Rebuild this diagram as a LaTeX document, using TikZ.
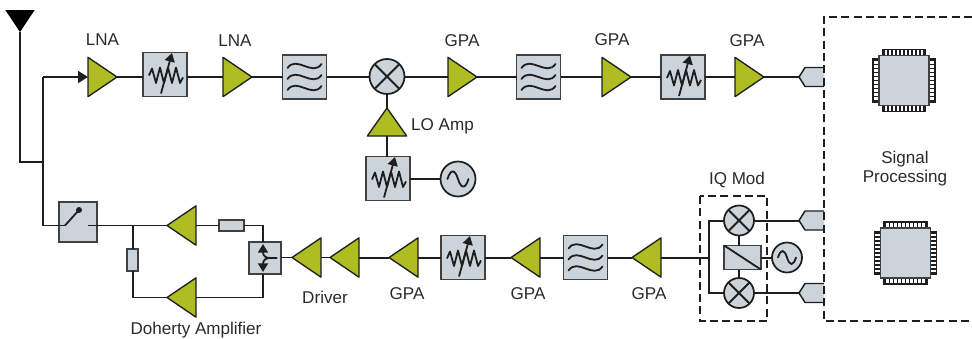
\documentclass[tikz,border=0pt]{standalone}
\usepackage{fontspec}
\setmainfont{Liberation Sans}
\usetikzlibrary{arrows.meta}
\definecolor{ampgreen}{HTML}{AFBD22}
\definecolor{boxgrey}{HTML}{CBD3DB}
\definecolor{inkdark}{HTML}{1E1E1E}
\definecolor{labelink}{HTML}{2A2A2A}
\tikzset{
  x=0.75pt,y=-0.75pt,
  wire/.style={draw=inkdark,line width=1.5pt},
  wire b/.style={draw=inkdark,line width=1.35pt},
  thin wire/.style={draw=inkdark,line width=1.35pt,line join=round},
  ampnode/.style={inner sep=0,outer sep=0,minimum width=21.75pt,minimum height=29.5pt},
  ampnodeup/.style={inner sep=0,outer sep=0,minimum width=29.5pt,minimum height=21pt},
  ampfill/.style={fill=ampgreen,draw=inkdark,line width=1pt,line join=round},
  grey box/.style={rectangle,fill=boxgrey,draw=inkdark!85,line width=1.1pt,inner sep=0,outer sep=0},
  square box/.style={grey box,minimum size=33pt},
  round part/.style={circle,fill=boxgrey,draw=inkdark,line width=1.3pt,inner sep=0,outer sep=0},
  lab/.style={text=labelink,font=\fontsize{12.8}{14.25}\selectfont,inner sep=0,align=center},
  dashbox/.style={draw=inkdark,line width=.9pt,dash pattern=on 6pt off 3.2pt},
}
\newcommand{\ampR}[3]{\node[ampnode] (#1) at (#2,#3) {};
  \draw[ampfill] (#1.north west) -- (#1.east) -- (#1.south west) -- cycle;}
\newcommand{\ampL}[3]{\node[ampnode] (#1) at (#2,#3) {};
  \draw[ampfill] (#1.north east) -- (#1.west) -- (#1.south east) -- cycle;}
\newcommand{\attbox}[3]{\node[square box] (#1) at (#2,#3) {};
  \begin{scope}[shift={(#1.center)}]
    \draw[thin wire] (-16,1) -- (-13,-6) -- (-9,8.5) -- (-5,-7) -- (-1,8.5) -- (3,-7) -- (7,8.5) -- (11,-7) -- (15,8.5) -- (18,3);
    \draw[thin wire,-{Triangle[length=6.5pt,width=7.5pt]}] (-4,19) -- (7,-21.5);
  \end{scope}}
\newcommand{\filtbox}[3]{\node[square box] (#1) at (#2,#3) {};
  \begin{scope}[shift={(#1.center)}]
    \foreach \dy in {-11,0,11}{
      \draw[thin wire,line cap=round] (-17,\dy+2) .. controls (-8,\dy-11) and (8,\dy+11) .. (17,\dy-2);}
  \end{scope}}
\newcommand{\mixer}[4]{\node[round part,minimum size=#4*0.75pt] (#1) at (#2,#3) {};
  \draw[wire] (#1.north west) -- (#1.south east) (#1.north east) -- (#1.south west);}
\newcommand{\osc}[4]{\node[round part,minimum size=#4*0.75pt] (#1) at (#2,#3) {};
  \draw[thin wire,line cap=round,shift={(#1.center)}] (-#4*0.3,0) .. controls (-#4*0.21,-#4*0.29) and (-#4*0.09,-#4*0.29) .. (0,0) .. controls (#4*0.09,#4*0.29) and (#4*0.21,#4*0.29) .. (#4*0.3,0);}
\newcommand{\port}[3]{\coordinate (#1) at (#2,#3);
  \draw[fill=boxgrey,draw=inkdark,line width=1.1pt,line join=round] (824,#3-9.5) -- (805,#3-9.5) -- (799,#3) -- (805,#3+9.5) -- (824,#3+9.5);}
\newcommand{\chip}[3]{%
  \foreach \s in {-1,1}{
    \begin{scope}[shift={(#2,#3)}]
      \draw[draw=inkdark,line width=.8pt,fill=white] (-21.5,\s*25) rectangle (21.5,\s*31);
      \draw[draw=inkdark,line width=.8pt,fill=white] (\s*25,-21.5) rectangle (\s*31,21.5);
      \foreach \k in {-20,-16,...,20}{
        \draw[draw=inkdark,line width=.8pt] (\k,\s*25) -- (\k,\s*31);
        \draw[draw=inkdark,line width=.8pt] (\s*25,\k) -- (\s*31,\k);}
    \end{scope}}
  \node[grey box,minimum size=37.5pt,line width=1.3pt] (#1) at (#2,#3) {};}
\begin{document}
\begin{tikzpicture}
\useasboundingbox (0,0) rectangle (972,339);
% top chain
\ampR{lnaa}{102.5}{77}
\ampR{lnab}{237.5}{77}
\attbox{atta}{165}{74.5}
\filtbox{filta}{304.5}{77}
\mixer{mixa}{387}{76.5}{35}
\ampR{gpaa}{462.5}{77}
\filtbox{filtb}{538.5}{77}
\ampR{gpab}{616.5}{77}
\attbox{attb}{683}{77}
\ampR{gpac}{749.5}{77}
\port{pa}{799}{77}
% LO branch
\node[ampnodeup] (loamp) at (387,122) {};
\draw[ampfill] (loamp.north) -- (loamp.south east) -- (loamp.south west) -- cycle;
\attbox{attc}{388}{178.5}
\osc{osca}{458}{179}{35}
% bottom chain
\node[grey box,minimum width=28.5pt,minimum height=30pt] (sw) at (78,222) {};
\ampL{pau}{181.5}{225.5}
\ampL{pal}{181.5}{297.5}
\node[grey box,minimum width=18.75pt,minimum height=8.25pt] (resh) at (231.5,225.5) {};
\node[grey box,minimum width=8.25pt,minimum height=16.5pt] (resv) at (132.5,260) {};
\node[grey box,minimum size=24pt] (split) at (265,258) {};
\ampL{drva}{306.5}{257.5}
\ampL{drvb}{344.5}{257.5}
\ampL{gpad}{403.5}{257.5}
\attbox{attd}{463}{257.5}
\ampL{gpae}{525.5}{257.5}
\filtbox{filtc}{585.5}{257.5}
\ampL{gpaf}{646.5}{257.5}
\mixer{mixb}{739}{220.5}{30}
\mixer{mixc}{739}{293}{30}
\node[grey box,minimum width=27.5pt,minimum height=18pt] (conv) at (742.5,257.5) {};
\draw[thin wire] (conv.north west) -- (conv.south east);
\osc{oscb}{787}{257.5}{30}
\port{pb}{799}{220.5}
\port{pc}{799}{293}
% antenna
\node[inner sep=0,outer sep=0,minimum width=22pt,minimum height=16.5pt] (ant) at (20,21) {};
\fill[black] (ant.north west) -- (ant.north east) -- (ant.south) -- cycle;
\coordinate (tee) at (43,162);
\coordinate (corner) at (43,77);
\coordinate (swin) at (65,225.5);
\coordinate (swout) at (88,225.5);
\coordinate (swdot) at (79,210);
\coordinate (tapu) at (133,225.5);
\coordinate (tapl) at (133,297.5);
\coordinate (iqtop) at (709,220.5);
\coordinate (iqmid) at (709,257.5);
\coordinate (iqbot) at (709,293);
% connectors
\draw[wire b] (ant.south) |- (tee);
\draw[wire b] (swin) -| (corner);
\draw[wire b,-{Triangle[length=7.5pt,width=9pt]}] (corner) -- (lnaa.west);
\draw[wire] (lnaa.east) -- (atta.west |- lnaa.east);
\draw[wire] (atta.east |- lnab.west) -- (lnab.west);
\draw[wire] (lnab.east) -- (filta.west);
\draw[wire] (filta.east) -- (mixa.west |- filta.east);
\draw[wire] (mixa.east |- gpaa.west) -- (gpaa.west);
\draw[wire] (gpaa.east) -- (filtb.west);
\draw[wire] (filtb.east) -- (gpab.west);
\draw[wire] (gpab.east) -- (attb.west);
\draw[wire] (attb.east) -- (gpac.west);
\draw[wire] (gpac.east) -- (pa);
\draw[wire] (mixa.south) -- (loamp.north);
\draw[wire] (loamp.south) -- (attc.north -| loamp.south);
\draw[wire] (attc.east |- osca.west) -- (osca.west);
\draw[wire b] (swin) -- (swdot);
\fill[inkdark] (swdot) circle (3);
\draw[wire b] (swout) -- (pau.west);
\draw[wire b] (pau.east) -- (resh.west);
\draw[wire b] (resh.east) -| (split.north -| 263,0);
\draw[wire b] (tapu) -- (resv.north -| tapu);
\draw[wire b] (resv.south -| tapl) -- (tapl) -- (pal.west);
\draw[wire b] (pal.east) -| (split.south -| 263,0);
\draw[wire b] (split.east |- drva.west) -- (drva.west);
\draw[wire b] (drva.east) -- (drvb.west);
\draw[wire] (drvb.east) -- (gpad.west);
\draw[wire] (gpad.east) -- (attd.west);
\draw[wire] (attd.east) -- (gpae.west);
\draw[wire] (gpae.east) -- (filtc.west);
\draw[wire] (filtc.east) -- (gpaf.west);
\draw[wire] (gpaf.east) -- (iqmid);
\draw[wire] (mixb.west) -- (iqtop) -- (iqbot) -- (mixc.west);
\draw[wire] (mixb.south) -- (mixb.south |- conv.north);
\draw[wire] (mixc.north) -- (mixc.north |- conv.south);
\draw[wire] (conv.east) -- (oscb.west);
\draw[wire] (mixb.east) -- (pb);
\draw[wire] (mixc.east) -- (pc);
% splitter icon
\begin{scope}[shift={(split.center)}]
  \draw[thin wire,-{Triangle[length=6.5pt,width=7.5pt]}] (12,0) -- (5,0) .. controls (1,0) and (-2,-2) .. (-2,-14);
  \draw[thin wire,-{Triangle[length=6.5pt,width=7.5pt]}] (12,0) -- (5,0) .. controls (1,0) and (-2,2) .. (-2,14);
\end{scope}
% dashed frames
\draw[dashbox] (972,17) -- (824,17) -- (824,321) -- (972,321);
\draw[dashbox] (700,196) rectangle (767,321);
% chips
\chip{chipa}{904}{80.5}
\chip{chipb}{905.5}{253}
% labels
\node[lab] (t1) at (102.5,40) {LNA};
\node[lab] (t2) at (235,40.5) {LNA};
\node[lab] (t3) at (462,41) {GPA};
\node[lab] (t4) at (612,40) {GPA};
\node[lab] (t5) at (747,41) {GPA};
\node[lab] (t6) at (442.5,126) {LO Amp};
\node[lab] (t7) at (905,169) {Signal\\Processing};
\node[lab] (t8) at (737,179.5) {IQ Mod};
\node[lab] (t9) at (325,297.5) {Driver};
\node[lab] (t10) at (407,293.5) {GPA};
\node[lab] (t11) at (528,293.5) {GPA};
\node[lab] (t12) at (649,293.5) {GPA};
\node[lab] (t13) at (196,330.5) {Doherty Amplifier};
\end{tikzpicture}
\end{document}
